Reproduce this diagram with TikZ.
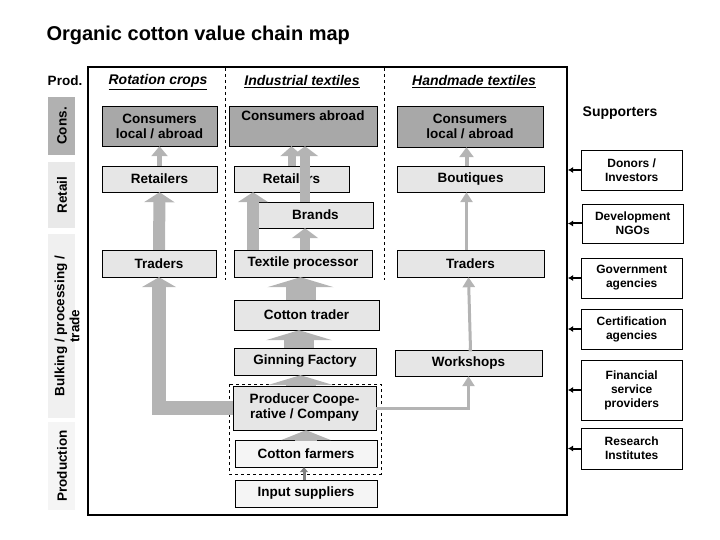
\documentclass[tikz,border=0pt]{standalone}
\usepackage{fontspec}
\setmainfont{Liberation Sans}
\usetikzlibrary{arrows.meta,calc}
\definecolor{boxgray}{HTML}{E6E6E6}
\definecolor{consgray}{HTML}{A8A8A8}
\definecolor{flowgray}{HTML}{B4B4B4}
\begin{document}
\begin{tikzpicture}[x=1pt,y=-1pt,
  box/.style={draw, fill=boxgray, font=\fontsize{13.5}{15}\selectfont\bfseries, align=center, inner sep=1pt},
  cons/.style={box, fill=consgray},
  sup/.style={draw, fill=white, font=\fontsize{12}{14}\selectfont\bfseries, align=center, inner sep=1pt, minimum width=101, anchor=west},
  band/.style={font=\fontsize{13.5}{15}\selectfont\bfseries, align=center, rotate=90},
  hdr/.style={font=\fontsize{14}{16}\selectfont\bfseries\itshape},
  flow/.style={draw=flowgray, line width=#1, line join=miter, -{Triangle[length=10pt 0, width=6pt 2, fill=flowgray]}},
  help/.style={-{Latex[length=5pt,width=6pt]}, line width=2pt}]
\useasboundingbox (0,0) rectangle (720,540);
% title and frame
\node[anchor=west, font=\fontsize{20}{24}\selectfont\bfseries] (title) at (43,35) {Organic cotton value chain map};
\node[draw, line width=2pt, minimum width=479, minimum height=448, inner sep=0] (frame) at (327.5,291) {};
% row bands
\fill[consgray!90] (48,97) rectangle (75,155);
\fill[boxgray!90] (48,162) rectangle (75,228);
\fill[boxgray!60] (48,234) rectangle (75,418);
\fill[boxgray!40] (48,422) rectangle (75,510);
\node[anchor=center, font=\fontsize{13.5}{15}\selectfont\bfseries] (prod) at (65,81) {Prod.};
\node[band] (bcons) at (62,126) {Cons.};
\node[band] (bret) at (62,195) {Retail};
\node[band] (bbulk) at (67,326) {Bulking / processing /\\trade};
\node[band] (bprodn) at (62,466) {Production};
% columns
\node[hdr] (h1) at (158,82) {\underline{Rotation crops}};
\node[hdr] (h2) at (302,82) {\underline{Industrial textiles}};
\node[hdr] (h3) at (474,82) {\underline{Handmade textiles}};
\draw[dashed, line width=1pt] (225,68) -- (225,280);
\draw[dashed, line width=1pt] (384,68) -- (384,280);
% rotation crops
\node[cons, minimum width=115, minimum height=40] (cons1) at (159.5,126) {Consumers\\local / abroad};
\node[box, minimum width=115, minimum height=26] (ret1) at (159.5,179) {Retailers};
\node[box, minimum width=114, minimum height=27] (trad1) at (159,263.5) {Traders};
% industrial textiles
\node[cons, minimum width=148, minimum height=40, text depth=20pt] (cons2) at (303,126) {Consumers abroad};
\node[box, minimum width=115, minimum height=26] (ret2) at (291.5,179) {Retailers};
\node[box, minimum width=115, minimum height=26] (brands) at (315.5,215) {Brands};
\node[box, minimum width=138, minimum height=27] (texp) at (303,263.5) {Textile processor};
\node[box, minimum width=145, minimum height=30] (cottr) at (306.5,315) {Cotton trader};
\node[box, minimum width=142, minimum height=27] (ginn) at (305,361.5) {Ginning Factory};
\node[box, minimum width=143, minimum height=44] (coop) at (304.5,408) {Producer Coope-\\rative / Company};
\node[box, fill=boxgray!40, minimum width=142, minimum height=27] (farm) at (306,453.5) {Cotton farmers};
\node[box, fill=boxgray!40, minimum width=142, minimum height=27] (inp) at (306,493.5) {Input suppliers};
\draw[dashed] (229,384) rectangle (381,474);
% handmade textiles
\node[cons, minimum width=146, minimum height=41] (cons3) at (470,126.5) {Consumers\\local / abroad};
\node[box, minimum width=147, minimum height=26] (bout) at (470.5,179) {Boutiques};
\node[box, minimum width=147, minimum height=27] (trad3) at (470.5,263.5) {Traders};
\node[box, minimum width=147, minimum height=26] (work) at (468.5,363) {Workshops};
% flows
\draw[flow=5] (ret1.north) -- (cons1.south);
\draw[flow=12] (trad1.north) -- (ret1.south);
\draw[flow=14] (coop.west) -| (trad1.south);
\draw[flow=12] ([xshift=-50]texp.north) -- ([xshift=-50]texp.north |- ret2.south);
\draw[flow=8] (ret2.north) -- (ret2.north |- cons2.south);
\draw[flow=10] ([xshift=2]texp.north) -- ([xshift=2]texp.north |- brands.south);
\draw[flow=10] ([xshift=2]texp.north |- brands.north) -- ([xshift=2]texp.north |- cons2.south);
\draw[flow=30] ([xshift=-6]cottr.north) -- ([xshift=-6]cottr.north |- texp.south);
\draw[flow=30] ([xshift=-6]ginn.north) -- ([xshift=-6]ginn.north |- cottr.south);
\draw[flow=30] ([xshift=-4]coop.north) -- ([xshift=-4]coop.north |- ginn.south);
\draw[flow=22] (farm.north) -- (farm.north |- coop.south);
\draw[draw=gray, line width=3pt, -{Triangle[length=5pt, width=8pt]}] ([xshift=-2]inp.north) -- ([xshift=-2]inp.north |- farm.south);
\draw[flow=3] (coop.east) -| (work.south);
\draw[flow=3] (work.north) -- (work.north -| trad3.south) -- (trad3.south -| work.north);
\draw[flow=3] ([xshift=-4]trad3.north) -- ([xshift=-4]trad3.north |- bout.south);
\draw[flow=4] ([xshift=-4]bout.north) -- ([xshift=-4]bout.north |- cons3.south);
% supporters
\node[font=\fontsize{14}{16}\selectfont\bfseries] (supp) at (620,113) {Supporters};
\node[sup, minimum height=40] (donor) at (581,170) {Donors /\\Investors};
\node[sup, minimum height=39] (ngo) at (582,223.5) {Development\\NGOs};
\node[sup, minimum height=40] (gov) at (581,278) {Government\\agencies};
\node[sup, minimum height=40] (cert) at (581,329) {Certification\\agencies};
\node[sup, minimum height=60] (fin) at (581,390) {Financial\\service\\providers};
\node[sup, minimum height=41] (res) at (581,448.5) {Research\\Institutes};
\foreach \s in {donor,ngo,gov,cert,fin,res}
  \draw[help] (\s.west) -- (\s.west -| frame.east);
\end{tikzpicture}
\end{document}
